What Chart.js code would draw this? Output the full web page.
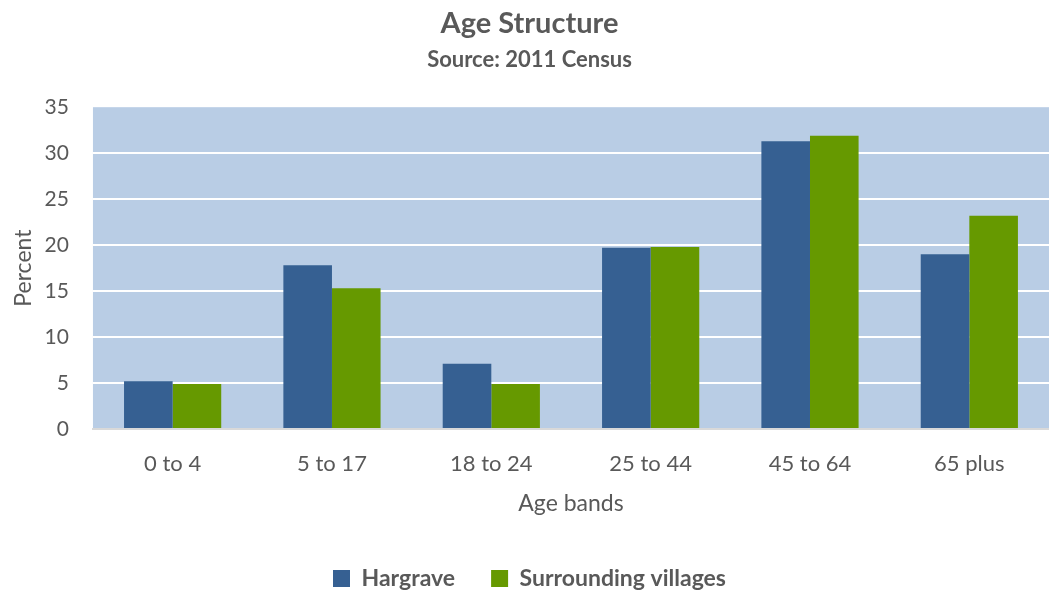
<!DOCTYPE html>
<html>
<head>
<meta charset="utf-8">
<script src="https://cdn.jsdelivr.net/npm/chart.js@4"></script>
<style>
  html, body { margin: 0; padding: 0; background: #ffffff; }
  #wrap { width: 1049px; height: 592px; }
</style>
</head>
<body>
<div id="wrap"><canvas id="graficoIdade"></canvas></div>
<script>
var faixas = ['0 to 4', '5 to 17', '18 to 24', '25 to 44', '45 to 64', '65 plus']
var hargrave = [5.2, 17.8, 7.1, 19.7, 31.3, 19.0]
var vilas = [4.9, 15.3, 4.9, 19.8, 31.9, 23.2]

var cinza = '#595959'
var fonte = 'Lato, "Open Sans", sans-serif'

// pinta o fundo azul da area do grafico
var fundoPlot = {
    id: 'fundoPlot',
    beforeDraw: function (chart) {
        var a = chart.chartArea
        var c = chart.ctx
        c.save()
        c.fillStyle = '#b9cde5'
        c.fillRect(a.left, a.top, a.right - a.left, a.bottom - a.top)
        c.restore()
    }
}

var ctx = document.getElementById('graficoIdade')

var myChart = new Chart(ctx, {
    type: 'bar',
    data: {
        labels: faixas,
        datasets: [{
            label: 'Hargrave',
            data: hargrave,
            backgroundColor: '#366092',
            borderWidth: 0
        }, {
            label: 'Surrounding villages',
            data: vilas,
            backgroundColor: '#669900',
            borderWidth: 0
        }]
    },
    options: {
        responsive: true,
        maintainAspectRatio: false,
        animation: false,
        layout: { padding: { left: 10, right: 0, top: 4, bottom: -8 } },
        datasets: {
            bar: { barPercentage: 1, categoryPercentage: 0.61 }
        },
        plugins: {
            title: {
                display: true,
                text: 'Age Structure',
                color: cinza,
                font: { family: fonte, size: 29, weight: 'bold' },
                padding: { top: 2, bottom: 6 }
            },
            subtitle: {
                display: true,
                text: 'Source: 2011 Census',
                color: cinza,
                font: { family: fonte, size: 22, weight: 'bold' },
                padding: { top: 0, bottom: 34 }
            },
            legend: {
                position: 'bottom',
                labels: {
                    color: cinza,
                    font: { family: fonte, size: 23, weight: 'bold' },
                    boxWidth: 17,
                    boxHeight: 17,
                    padding: 36
                }
            },
            tooltip: { enabled: false }
        },
        scales: {
            x: {
                grid: { display: false },
                border: { display: true, color: '#d9d9d9', width: 2 },
                ticks: {
                    color: cinza,
                    font: { family: fonte, size: 22 },
                    padding: 14
                },
                title: {
                    display: true,
                    text: 'Age bands',
                    color: cinza,
                    font: { family: fonte, size: 23 },
                    padding: { top: -2, bottom: 14 }
                }
            },
            y: {
                min: 0,
                max: 35,
                ticks: {
                    stepSize: 5,
                    color: cinza,
                    font: { family: fonte, size: 21 },
                    padding: 24
                },
                grid: {
                    drawTicks: false,
                    lineWidth: 2,
                    color: function (c) {
                        if (c.tick && (c.tick.value == 0 || c.tick.value == 35)) return 'rgba(0,0,0,0)'
                        return '#ffffff'
                    }
                },
                border: { display: false },
                title: {
                    display: true,
                    text: 'Percent',
                    color: cinza,
                    font: { family: fonte, size: 23 },
                    padding: { top: 0, bottom: -17 }
                }
            }
        }
    },
    plugins: [fundoPlot]
})
</script>
</body>
</html>
